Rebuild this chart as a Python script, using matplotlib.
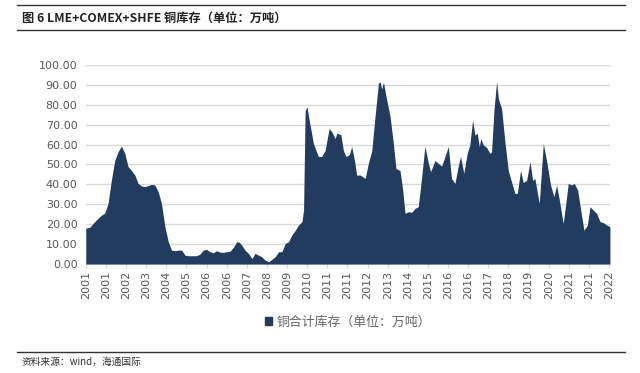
import matplotlib
matplotlib.use("Agg")
import matplotlib.pyplot as plt
from matplotlib.lines import Line2D
from matplotlib.patches import Patch

plt.rcParams["font.family"] = ["Noto Sans CJK SC", "DejaVu Sans"]

# month index since Jan 2001 -> total copper stock (10k t)
MONTHS = [0, 2, 3.6, 6.1, 7.8, 9.4, 11.1, 12.7, 14.4, 16.1, 17.7, 19.4, 21.0, 22.7,
          24.4, 26.0, 27.7, 29.3, 31.0, 32.7, 34.3, 36.0, 37.6, 39.3, 41.0, 42.6,
          44.3, 45.9, 47.6, 49.3, 50.9, 53.4, 55.0, 56.7, 58.4, 60.0, 61.7, 63.4,
          65.0, 66.7, 68.3, 70.0, 71.7, 73.3, 75.0, 76.3, 77.5, 79.1, 80.8, 82.5,
          84.1, 85.8, 87.4, 89.1, 90.8, 92.4, 94.1, 95.8, 97.4, 99.1, 100.7, 102.4,
          104.1, 105.7, 107.4, 108.2, 109.0, 109.9, 110.7,
          111.4, 113.1, 114.4, 115.6, 117.2, 118.9, 120.9, 122.2, 123.9, 124.7,
          126.7, 128.0, 129.3, 131.0, 132.1, 133.5, 134.6, 136.3, 137.6, 138.8,
          140.4, 142.1, 143.7, 145.4, 146.2, 147.0, 147.9, 149.2, 151.2, 152.8,
          154.1, 156.1, 157.5, 158.6, 160.3, 161.9, 163.6, 165.2, 166.9, 168.5,
          170.2, 171.3, 173.5, 175.1, 176.8, 178.1, 180.1, 181.7, 183.4, 185.0,
          186.2, 187.8, 189.5, 190.8, 192.2, 193.3, 194.5, 195.5, 196.3, 197.5,
          199.1, 200.8, 201.6, 202.8, 204.1, 205.0, 206.6, 208.3, 209.9, 211.6,
          213.2, 214.4, 216.0, 217.3, 219.0, 220.7, 222.0, 223.1, 225.3, 227.3,
          228.9, 230.9, 232.6, 233.9, 235.3, 237.2, 238.9, 239.7, 241.4, 242.7,
          244.4, 245.9, 247.5, 249.2, 250.5, 252.2, 253.8, 255.5, 257.1, 258.8,
          260.4]
STOCK = [18.0, 18.5, 20.4, 23.0, 24.6, 25.5, 30.5, 42.0, 52.0, 56.5, 59.3, 55.6, 49.0, 47.0,
         44.7, 40.5, 39.2, 38.9, 39.4, 40.0, 39.7, 36.3, 30.5, 18.8, 11.2, 7.0,
         6.7, 7.0, 7.0, 4.5, 4.2, 4.2, 4.2, 5.0, 7.0, 7.4, 6.2, 5.7,
         6.7, 6.0, 5.9, 6.2, 6.5, 8.4, 11.2, 11.0, 9.5, 7.0, 5.4, 2.8,
         5.4, 4.5, 3.7, 2.0, 1.2, 2.3, 3.7, 6.2, 6.2, 10.4, 11.2, 14.6,
         17.0, 19.6, 21.3, 27.0, 77.0, 79.0, 74.0,
         70.0, 60.6, 57.0, 54.0, 54.0, 57.0, 68.0, 66.5, 63.0, 65.7,
         65.0, 57.0, 54.0, 55.0, 59.0, 52.0, 44.7, 44.7, 43.9, 43.0,
         50.6, 57.0, 74.0, 90.8, 91.6, 88.0, 91.3, 84.0, 74.0, 60.6,
         48.0, 47.0, 37.0, 25.5, 26.3, 26.0, 28.0, 28.8, 43.9, 59.3,
         50.6, 46.4, 52.0, 50.6, 49.2, 53.0, 59.0, 43.0, 40.5, 49.0,
         54.0, 45.6, 55.6, 59.8, 72.4, 64.8, 65.7, 59.0, 63.0, 59.8,
         58.6, 55.6, 56.4, 77.4, 91.6, 83.0, 78.0, 60.6, 47.0, 41.0,
         35.5, 35.5, 47.0, 41.0, 42.0, 51.4, 42.0, 43.0, 30.5, 60.6,
         52.0, 39.7, 33.8, 39.7, 32.0, 20.4, 33.8, 40.5, 39.7, 40.5,
         37.0, 27.0, 17.0, 19.6, 28.8, 27.0, 25.5, 21.3, 20.8, 19.6,
         18.8]

TICK_MONTHS = list(range(0, 261, 10))
TICK_LABELS = ["2001", "2001", "2002", "2003", "2004", "2005", "2006", "2006", "2007",
               "2008", "2009", "2010", "2011", "2011", "2012", "2013", "2014", "2015",
               "2016", "2016", "2017", "2018", "2019", "2020", "2021", "2021", "2022"]

NAVY = "#213c5e"
GRAY = "#595959"

fig = plt.figure(figsize=(6.4, 3.73), dpi=100)
ax = fig.add_axes([0.134, 0.292, 0.819, 0.534])

ax.fill_between(MONTHS, 0, STOCK, color=NAVY, linewidth=0, zorder=3)
ax.set_xlim(0, 260.4)
ax.set_ylim(0, 100)
ax.set_yticks(range(0, 101, 10))
ax.set_yticklabels([f"{v:.2f}" for v in range(0, 101, 10)])
ax.set_xticks(TICK_MONTHS)
ax.set_xticklabels(TICK_LABELS, rotation=90)
ax.grid(axis="y", color="#d9d9d9", linewidth=1.0, zorder=0)
for s in ax.spines.values():
    s.set_visible(False)
ax.tick_params(axis="y", length=0, labelsize=8, colors=GRAY, pad=6)
ax.tick_params(axis="x", length=3, color="#d9d9d9", labelsize=8, labelcolor=GRAY, pad=2)
for lab in ax.get_xticklabels() + ax.get_yticklabels():
    lab.set_fontfamily(["DejaVu Sans"])

ax.legend([Patch(color=NAVY)], ["铜合计库存（单位：万吨）"], loc="center",
          bbox_to_anchor=(0.5, -0.29), frameon=False, fontsize=9.3,
          labelcolor="#666666", handlelength=0.55, handleheight=0.55,
          handletextpad=0.3)

# title block and footer rules
for y in (1 - 5 / 373, 1 - 30 / 373, 1 - 352 / 373):
    fig.add_artist(Line2D([17 / 640, 625 / 640], [y, y], color="#333333",
                          linewidth=1.0, transform=fig.transFigure))
fig.text(22 / 640, 1 - 18 / 373, "图 6 LME+COMEX+SHFE 铜库存（单位：万吨）",
         fontsize=8.8, fontweight="bold", color="#222222", va="center", ha="left")
fig.text(22 / 640, 1 - 362 / 373, "资料来源：wind，海通国际", fontsize=7,
         color="#333333", va="center", ha="left")

fig.savefig("out.png", dpi=100, facecolor="white")
